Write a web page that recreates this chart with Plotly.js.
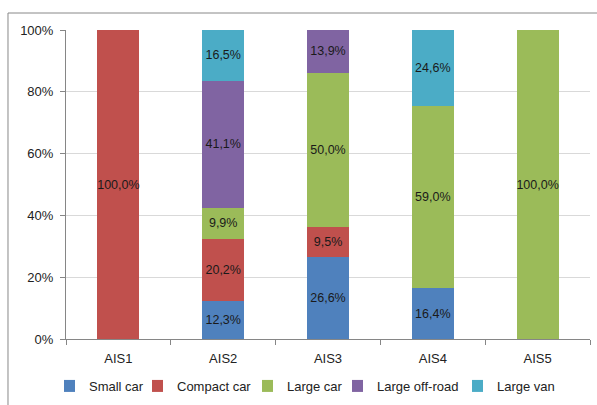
<!DOCTYPE html>
<html>
<head>
<meta charset="utf-8">
<script src="https://cdn.plot.ly/plotly-3.0.1.min.js"></script>
<style>
  html, body { margin: 0; padding: 0; background: #fff; }
  #chart { width: 597px; height: 405px; }
</style>
</head>
<body>
<div id="chart"></div>
<script>
// Vehicle class shares per AIS level (percent)
const categories = ['AIS1', 'AIS2', 'AIS3', 'AIS4', 'AIS5'];
const seriesNames = ['Small car', 'Compact car', 'Large car', 'Large off-road', 'Large van'];
const smallCar    = [0,   12.3, 26.6, 16.4, 0];
const compactCar  = [100, 20.2, 9.5,  0,    0];
const largeCar    = [0,   9.9,  50.0, 59.0, 100];
const largeOffRoad= [0,   41.1, 13.9, 0,    0];
const largeVan    = [0,   16.5, 0,    24.6, 0];
const colors = ['#4F81BD', '#C0504D', '#9BBB59', '#8064A2', '#4BACC6'];

const seriesValues = [smallCar, compactCar, largeCar, largeOffRoad, largeVan];

// one legend per series so each key sits where it belongs along the bottom row
const legendIds = ['legend', 'legend2', 'legend3', 'legend4', 'legend5'];
const legendLeftPx = [70, 158, 268, 358, 478];

function fmt(v) {
  return v > 0 ? v.toFixed(1).replace('.', ',') + '%' : '';
}

const traces = seriesValues.map((vals, i) => ({
  type: 'bar',
  name: seriesNames[i],
  legend: legendIds[i],
  x: categories,
  y: vals,
  text: vals.map(fmt),
  textposition: 'inside',
  insidetextanchor: 'middle',
  textangle: 0,
  constraintext: 'none',
  textfont: { family: 'Liberation Sans, Arial, sans-serif', size: 12.5, color: '#1a1a1a' },
  marker: { color: colors[i] },
  hoverinfo: 'skip'
}));

const layout = {
  width: 597,
  height: 405,
  barmode: 'stack',
  bargap: 0.6,
  margin: { l: 66, r: 7, t: 30, b: 66, autoexpand: false },
  paper_bgcolor: '#ffffff',
  plot_bgcolor: '#ffffff',
  font: { family: 'Liberation Sans, Arial, sans-serif', size: 13, color: '#222' },
  showlegend: true,
  xaxis: {
    showline: true,
    linecolor: '#868686',
    linewidth: 1,
    ticks: 'outside',
    tickson: 'boundaries',
    ticklen: 5,
    tickcolor: '#868686',
    ticklabelstandoff: 7,
    showgrid: false,
    tickfont: { size: 13, color: '#222' }
  },
  yaxis: {
    range: [0, 100],
    dtick: 20,
    ticksuffix: '%',
    showline: true,
    linecolor: '#868686',
    linewidth: 1,
    ticks: 'outside',
    ticklen: 5,
    tickcolor: '#868686',
    ticklabelstandoff: 4,
    gridcolor: '#d9d9d9',
    gridwidth: 1,
    zeroline: false,
    tickfont: { size: 13, color: '#222' }
  },
  shapes: [{
    type: 'path',
    xref: 'paper', yref: 'paper',
    path: 'M -0.1107 -0.3 L -0.1107 1.055 L 1.1 1.055',
    line: { color: '#888888', width: 1 }
  }]
};

legendIds.forEach((id, i) => {
  layout[id] = {
    orientation: 'h',
    xref: 'container', yref: 'container',
    x: (legendLeftPx[i] - 6) / 597, xanchor: 'left',
    y: 0.084, yanchor: 'top',
    indentation: -15,
    bgcolor: 'rgba(0,0,0,0)',
    font: { size: 13, color: '#222' }
  };
});

Plotly.newPlot('chart', traces, layout, { displayModeBar: false, staticPlot: true });
</script>
</body>
</html>
